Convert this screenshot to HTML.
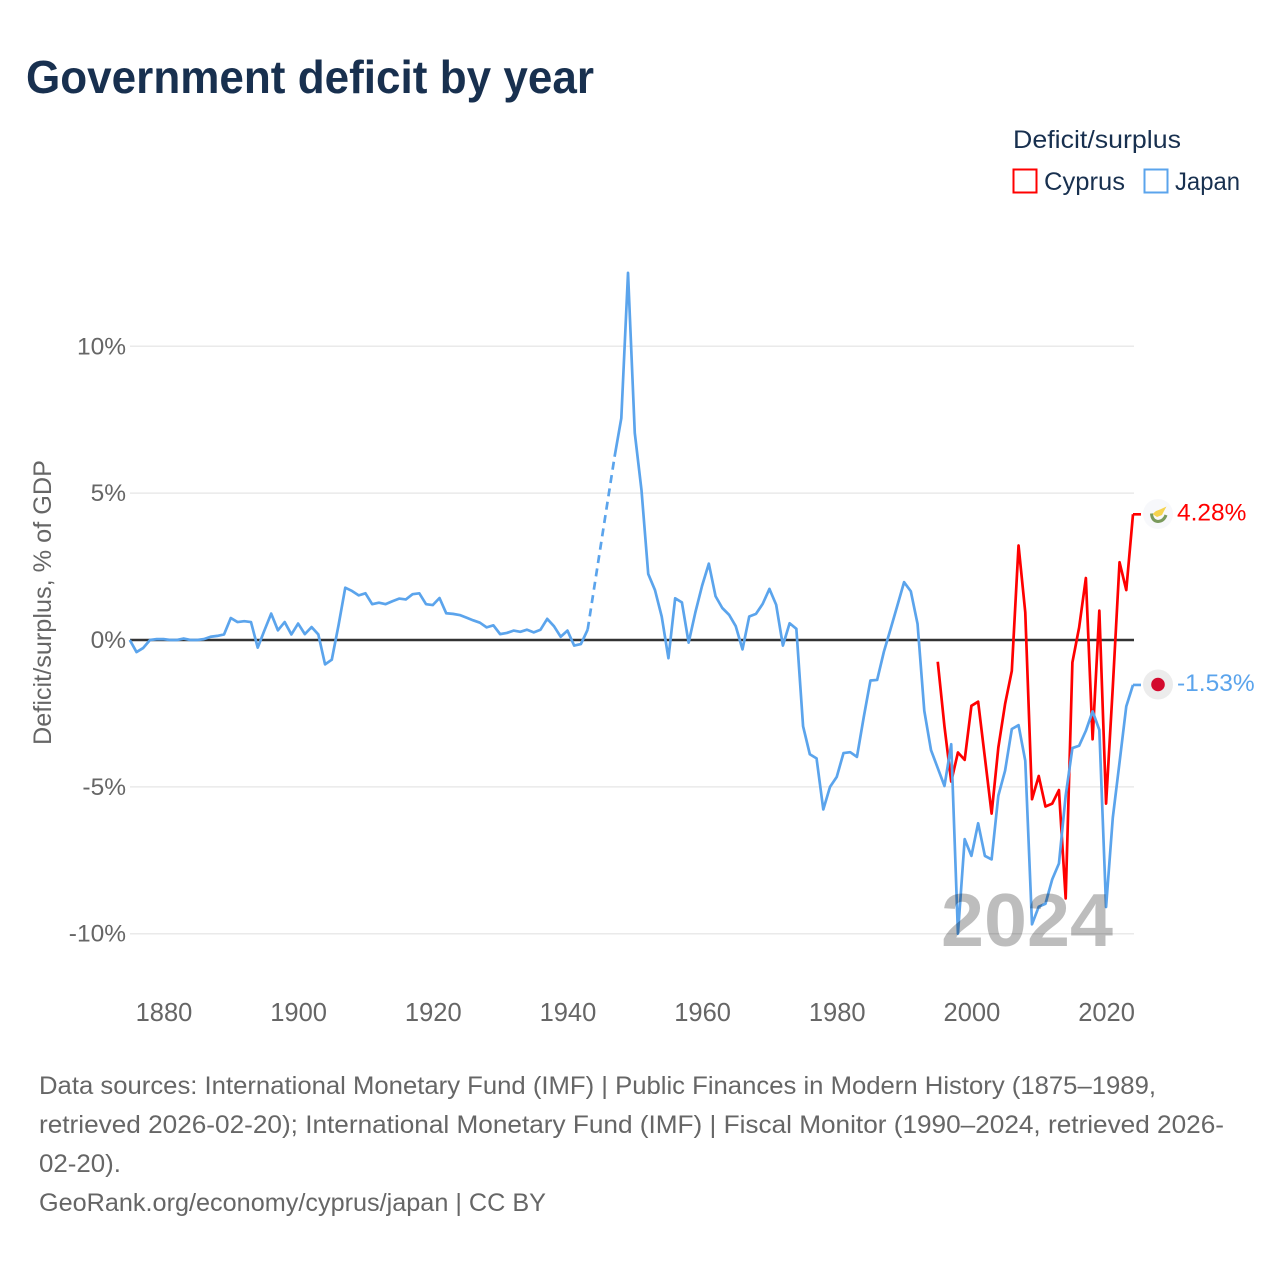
<!DOCTYPE html>
<html lang="en">
<head>
<meta charset="utf-8">
<title>Government deficit by year</title>
<style>
  html,body{margin:0;padding:0;background:#fff;}
  svg{display:block;font-family:"Liberation Sans",sans-serif;}
</style>
</head>
<body>
<svg id="chart" xmlns="http://www.w3.org/2000/svg" width="1280" height="1280" viewBox="0 0 1280 1280">
  <rect x="0" y="0" width="1280" height="1280" fill="#fff"/>
  <text x="26" y="93" font-size="46" font-weight="700" fill="#18304f" textLength="568" lengthAdjust="spacingAndGlyphs">Government deficit by year</text>

  <g>
    <text x="1013" y="148" font-size="25" fill="#18304f" textLength="168" lengthAdjust="spacingAndGlyphs">Deficit/surplus</text>
    <g>
      <rect x="1013.5" y="169.5" width="23" height="23" fill="none" stroke="#ff0000" stroke-width="2"/>
      <text x="1044" y="190" font-size="25" fill="#18304f" textLength="81" lengthAdjust="spacingAndGlyphs">Cyprus</text>
    </g>
    <g>
      <rect x="1144.5" y="169.5" width="23" height="23" fill="none" stroke="#5ba4ec" stroke-width="2"/>
      <text x="1175" y="190" font-size="25" fill="#18304f" textLength="65" lengthAdjust="spacingAndGlyphs">Japan</text>
    </g>
  </g>

  <text transform="translate(51,745) rotate(-90)" font-size="25" fill="#666" textLength="285" lengthAdjust="spacingAndGlyphs">Deficit/surplus, % of GDP</text>

  <g id="grid"></g>
  <g id="yticks"></g>
  <g id="xticks"></g>
  <g id="series"></g>

  <g id="flagCyprus">
    <circle cx="1158" cy="514" r="15" fill="#f7f8fb"/>
    <path d="M1152.5 514 L1156 511 L1160 509.5 L1166.5 506.5 L1164 511 L1162 515 L1157 517 Z" fill="#f5d34f"/>
    <path d="M1151.5 513.5 Q1152 521 1158 521.5 Q1164 521 1166 515" fill="none" stroke="#7a9a5c" stroke-width="3"/>
  </g>
  <g id="flagJapan">
    <circle cx="1158" cy="684.5" r="15" fill="#ececec"/>
    <circle cx="1158" cy="684.5" r="6.8" fill="#d30a2e"/>
  </g>

  <text id="yearLabel" x="941" y="946" font-size="75" font-weight="700" fill="#000" fill-opacity="0.26" textLength="172" lengthAdjust="spacingAndGlyphs">2024</text>

  <g font-size="25" fill="#666">
    <text x="39" y="1094" textLength="1117" lengthAdjust="spacingAndGlyphs">Data sources: International Monetary Fund (IMF) | Public Finances in Modern History (1875–1989,</text>
    <text x="39" y="1133" textLength="1185" lengthAdjust="spacingAndGlyphs">retrieved 2026-02-20); International Monetary Fund (IMF) | Fiscal Monitor (1990–2024, retrieved 2026-</text>
    <text x="39" y="1172" textLength="82" lengthAdjust="spacingAndGlyphs">02-20).</text>
    <text x="39" y="1211" textLength="507" lengthAdjust="spacingAndGlyphs">GeoRank.org/economy/cyprus/japan | CC BY</text>
  </g>
</svg>
<script>
const xTickYears = [1880, 1900, 1920, 1940, 1960, 1980, 2000, 2020];
const yTickValues = [-10, -5, 0, 5, 10];
const japanFirstYear = 1875;
const japanValues = [
  0, -0.41, -0.27, 0, 0.03, 0.03, 0, 0, 0.05, 0,
  0, 0.03, 0.11, 0.14, 0.19, 0.75, 0.61, 0.64, 0.61, -0.26,
  0.33, 0.9, 0.33, 0.61, 0.19, 0.56, 0.2, 0.44, 0.19, -0.83,
  -0.67, 0.5, 1.78, 1.67, 1.52, 1.59, 1.22, 1.27, 1.22, 1.32,
  1.41, 1.38, 1.56, 1.59, 1.22, 1.19, 1.43, 0.91, 0.89, 0.85,
  0.76, 0.67, 0.59, 0.43, 0.5, 0.2, 0.24, 0.32, 0.28, 0.35,
  0.26, 0.35, 0.72, 0.47, 0.11, 0.32, -0.19, -0.14, 0.35, null,
  null, null, 6.24, 7.55, 12.5, 7.05, 5.1, 2.25, 1.7, 0.8,
  -0.62, 1.42, 1.28, -0.09, 0.94, 1.85, 2.6, 1.49, 1.09, 0.86,
  0.47, -0.32, 0.8, 0.89, 1.23, 1.74, 1.2, -0.19, 0.57, 0.38,
  -2.94, -3.89, -4.03, -5.77, -5, -4.66, -3.85, -3.82, -3.98, -2.64,
  -1.38, -1.36, -0.4, 0.38, 1.17, 1.97, 1.66, 0.55, -2.41, -3.75,
  -4.36, -4.97, -3.55, -10, -6.78, -7.35, -6.24, -7.35, -7.47, -5.3,
  -4.45, -3.03, -2.9, -4.11, -9.68, -9.08, -8.98, -8.15, -7.61, -5.3,
  -3.68, -3.6, -3.09, -2.43, -3.06, -9.09, -6.05, -4.17, -2.26, -1.53
];
const cyprusFirstYear = 1995;
const cyprusValues = [
  -0.74, -2.95, -4.82, -3.83, -4.08, -2.24, -2.1, -4, -5.91, -3.66,
  -2.18, -1.05, 3.22, 0.94, -5.42, -4.63, -5.67, -5.57, -5.11, -8.8,
  -0.76, 0.43, 2.11, -3.38, 1, -5.57, -1.6, 2.65, 1.7, 4.28
];

const SVG_NS = 'http://www.w3.org/2000/svg';
const RED = '#ff0000';
const BLUE = '#5ba4ec';
function xScale(year) { return 129.8 + (year - 1875) * (1133 - 129.8) / (2024 - 1875); }
function yScale(v) { return 640 - v * 29.37; }
function make(tag) { return document.createElementNS(SVG_NS, tag); }

const gridGroup = document.getElementById('grid');
const yTickGroup = document.getElementById('yticks');
const xTickGroup = document.getElementById('xticks');
const seriesGroup = document.getElementById('series');

yTickValues.forEach(function (v) {
  const line = make('line');
  
  
  line.setAttribute('x1', 130);
  line.setAttribute('x2', 1134);
  line.setAttribute('y1', yScale(v));
  line.setAttribute('y2', yScale(v));
  line.setAttribute('stroke', v === 0 ? '#333' : '#eaeaea');
  line.setAttribute('stroke-width', v === 0 ? 2.6 : 1.5);
  gridGroup.appendChild(line);

  const label = make('text');
  
  
  label.setAttribute('x', 126);
  label.setAttribute('y', yScale(v) + 8);
  label.setAttribute('text-anchor', 'end');
  label.setAttribute('font-size', 24.5);
  label.setAttribute('fill', '#666');
  label.textContent = v + '%';
  yTickGroup.appendChild(label);
});

xTickYears.forEach(function (year) {
  const label = make('text');
  
  
  label.setAttribute('x', xScale(year) + 0.5);
  label.setAttribute('y', 1021);
  label.setAttribute('text-anchor', 'middle');
  label.setAttribute('font-size', 25.5);
  label.setAttribute('fill', '#666');
  label.textContent = year;
  xTickGroup.appendChild(label);
});

function drawSeries(name, values, firstYear, color) {
  let d = '';
  let dashed = '';
  let lastPoint = null;
  let gap = false;
  values.forEach(function (v, i) {
    if (v === null) { gap = true; return; }
    const px = xScale(firstYear + i).toFixed(2);
    const py = yScale(v).toFixed(2);
    if (gap && lastPoint) {
      dashed += 'M' + lastPoint + 'L' + px + ' ' + py;
      d += 'M' + px + ' ' + py;
    } else {
      d += (d ? 'L' : 'M') + px + ' ' + py;
    }
    gap = false;
    lastPoint = px + ' ' + py;
  });
  const lastValue = values[values.length - 1];
  const endX = xScale(firstYear + values.length - 1);
  const endY = yScale(lastValue);
  d += 'M' + endX + ' ' + endY + 'L' + (endX + 8) + ' ' + endY;

  const path = make('path');
  
  
  path.setAttribute('d', d);
  path.setAttribute('fill', 'none');
  path.setAttribute('stroke', color);
  path.setAttribute('stroke-width', 2.7);
  path.setAttribute('stroke-linejoin', 'round');
  seriesGroup.appendChild(path);

  if (dashed) {
    const dash = make('path');
    
    
    dash.setAttribute('d', dashed);
    dash.setAttribute('fill', 'none');
    dash.setAttribute('stroke', color);
    dash.setAttribute('stroke-width', 2.7);
    dash.setAttribute('stroke-dasharray', '8 5.5');
    seriesGroup.appendChild(dash);
  }

  const label = make('text');
  
  
  label.setAttribute('x', 1177);
  label.setAttribute('y', endY + 6);
  label.setAttribute('font-size', 24.5);
  label.setAttribute('fill', color);
  label.textContent = lastValue.toFixed(2) + '%';
  seriesGroup.appendChild(label);
}

drawSeries('cyprus', cyprusValues, cyprusFirstYear, RED);
drawSeries('japan', japanValues, japanFirstYear, BLUE);
</script>
</body>
</html>
